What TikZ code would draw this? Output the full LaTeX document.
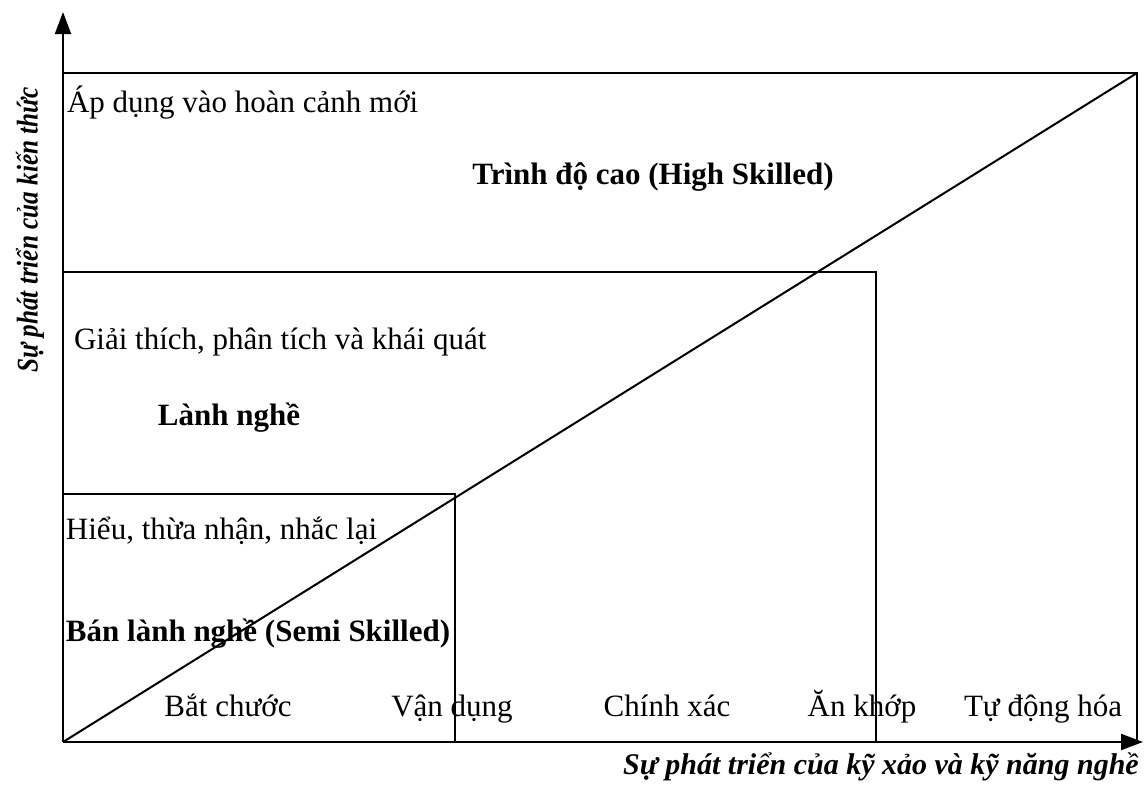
\documentclass[tikz,border=0pt]{standalone}
\usepackage{fontspec}
\setmainfont{Liberation Serif}
\usetikzlibrary{positioning, arrows.meta}

\begin{document}
\begin{tikzpicture}[x=0.5pt, y=0.5pt, line width=1pt,
    lbl/.style={font=\fontsize{15.5}{17}\selectfont, inner sep=0pt},
    lvl/.style={font=\fontsize{15.5}{17}\selectfont\bfseries, inner sep=0pt},
    axlbl/.style={font=\fontsize{15}{17}\selectfont\bfseries\itshape, inner sep=0pt}]
    \useasboundingbox (-63,-42) rectangle (1082,742);
    % axes
    \coordinate (o) at (0,0);
    \coordinate (ytip) at (0,730);
    \coordinate (xtip) at (1080,0);
    \draw[-{Triangle[length=11pt,width=8pt]}] (o)--(ytip);
    \draw[-{Triangle[length=11pt,width=8pt]}] (o)--(xtip);
    % nested levels
    \coordinate (hi) at (1074,669);
    \coordinate (mid) at (813,470);
    \coordinate (lo) at (392,248);
    \draw (o |- hi)--(hi)--(hi |- o);
    \draw (o |- mid)--(mid)--(mid |- o);
    \draw (o |- lo)--(lo)--(lo |- o);
    \draw (o)--(hi);
    % texts in boxes
    \node[lbl, anchor=base west] (apdung) at (3,630) {Áp dụng vào hoàn cảnh mới};
    \node[lvl, anchor=base] (cao) at (590,558) {Trình độ cao (High Skilled)};
    \node[lbl, anchor=base west] (giaithich) at (10,393) {Giải thích, phân tích và khái quát};
    \node[lvl, anchor=base] (lanhnghe) at (166,317) {Lành nghề};
    \node[lbl, anchor=base west] (hieu) at (2,203) {Hiểu, thừa nhận, nhắc lại};
    \node[lvl, anchor=base west] (banlanh) at (2,101) {Bán lành nghề (Semi Skilled)};
    % steps along the x axis
    \foreach \x/\t [count=\i] in {165/Bắt chước, 389/Vận dụng, 604/Chính xác, 799/Ăn khớp, 980/Tự động hóa}
        \node[lbl, anchor=base] (s\i) at (\x,26) {\t};
    % axis titles
    \node[axlbl, rotate=90] (ylbl) at (-33,512) {\scalebox{0.84}[1]{Sự phát triển của kiến thức}};
    \node[axlbl, anchor=base] (xlbl) at (818,-32) {Sự phát triển của kỹ xảo và kỹ năng nghề};
\end{tikzpicture}
\end{document}
